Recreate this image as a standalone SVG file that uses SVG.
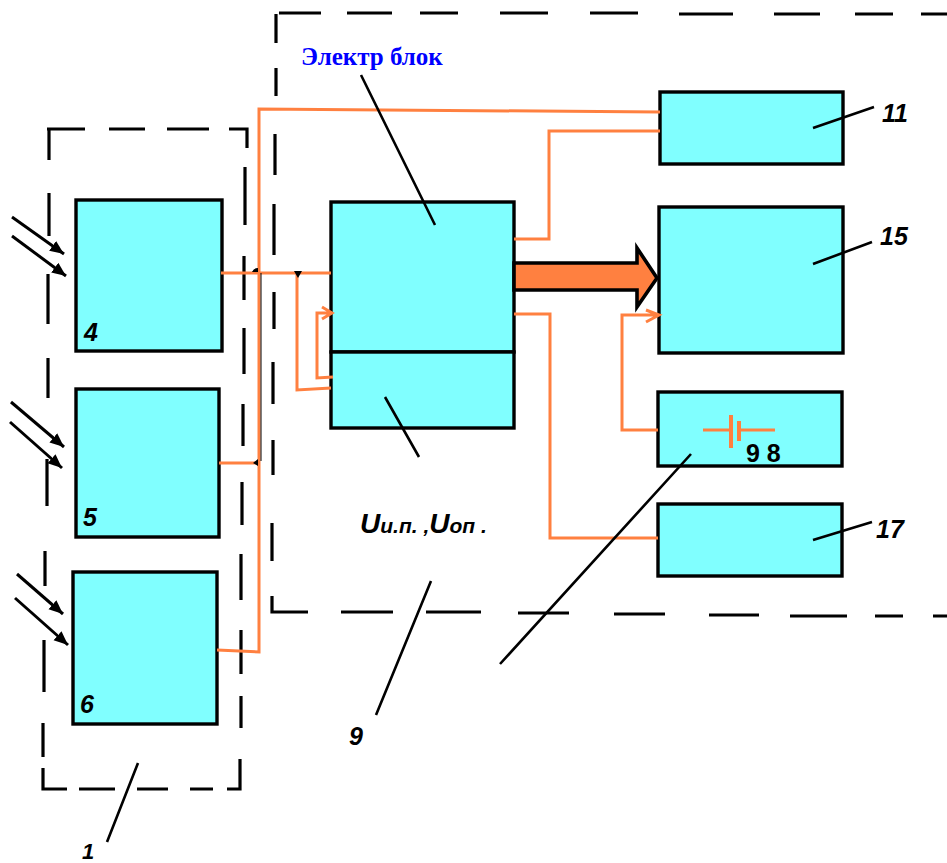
<svg xmlns="http://www.w3.org/2000/svg" width="947" height="863" viewBox="0 0 947 863">
<defs>
<marker id="ray" markerUnits="userSpaceOnUse" markerWidth="16" markerHeight="14" refX="14" refY="7" orient="auto"><path d="M0 1L14 7L0 13Z" fill="#000"/></marker>
</defs>
<style>
.b{fill:#80ffff;stroke:#000;stroke-width:3.4}
.d{fill:none;stroke:#000;stroke-width:3.2}
.l{fill:none;stroke:#000;stroke-width:2.6}
.r{fill:none;stroke:#000;stroke-width:3}
.o{fill:none;stroke:#ff8040;stroke-width:3}
.t{font-family:"Liberation Sans",Arial,sans-serif;font-style:italic;font-weight:bold;font-size:25px;fill:#000}
.k{fill:#000;stroke:none}
</style>
<rect width="947" height="863" fill="#fff"/>
<g id="frame-1">
<path class="d" d="M47 129H85M109 129H145M167 129H209M229 129H247V148M245 167V225M244 256V300M244 328V374M243 404V446M242 482V525M241 554V600M241 630V674M241 696V728M240 759V789H227M213 789H190M168 789H137M115 789H79M67 789H43V768M43 757V723M44 692V640M45 586V551M47 506V459M48 398V358M48 324V274M49 236V193M49 160V129"/>
</g>
<g id="frame-9">
<path class="d" d="M279 13H321M347 13H392M420 13H458M500 13H548M590 13H638M679 14H733M774 14H820M855 14H893M921 14H947M276 14V43M276 68V96M275 134V175M274 204V255M274 292V329M273 362V404M273 440V475M272 523V561M272 596V612H308M341 612H393M426 612H481M518 613H569M614 614H665M709 615H759M790 616H847M875 616H903M933 616H947"/>
</g>
<g id="node-4"><rect class="b" x="76" y="200" width="146" height="151"/><text class="t" x="84" y="341">4</text></g>
<g id="node-5"><rect class="b" x="76" y="389" width="143" height="148"/><text class="t" x="83" y="526">5</text></g>
<g id="node-6"><rect class="b" x="73" y="572" width="144" height="152"/><text class="t" x="80" y="713">6</text></g>
<g id="node-main"><rect class="b" x="331" y="202" width="183" height="150"/></g>
<g id="node-sub"><rect class="b" x="331" y="352" width="183" height="76"/></g>
<g id="node-11"><rect class="b" x="660" y="92" width="183" height="72"/></g>
<g id="node-15"><rect class="b" x="659" y="207" width="184" height="146"/></g>
<g id="node-98"><rect class="b" x="658" y="392" width="184" height="74"/><text x="746" y="462" font-family="Liberation Sans,Arial,sans-serif" font-weight="bold" font-size="25">9 8</text></g>
<g id="node-17"><rect class="b" x="658" y="504" width="184" height="72"/></g>
<g id="connectors">
<path class="o" d="M660 131H549V239H514"/>
<path class="o" d="M660 112L259 109V652L217 650"/>
<path class="o" d="M221 273H331"/>
<path class="o" d="M219 463H259"/>
<path class="o" d="M297 273V390L331 388"/>
<path class="o" d="M333 377L317 378V313H332M322 307L332 313L322 319"/>
<path class="o" d="M514 314H550V538H658"/>
<path class="o" d="M658 430H622V315H658M646 310L659 315L646 322"/>
<path class="o" d="M703 430H731M739 430H775"/>
<path fill="none" stroke="#ff8040" stroke-width="4" d="M731 415V448M739 421V441"/>
<path d="M514 263H637V248L657 278L637 307V290H514Z" fill="#ff8040" stroke="#000" stroke-width="3.6"/>
<path class="k" d="M252 272Q254 268 258 268V272ZM294 271H302L298 278ZM253 463L258 459V466Z"/>
<path d="M261 273V461" fill="none" stroke="#000" stroke-width="1"/>
<g id="rays">
<path class="r" marker-end="url(#ray)" d="M12 217L64 254"/>
<path class="r" marker-end="url(#ray)" d="M12 236L66 276"/>
<path class="r" marker-end="url(#ray)" d="M11 402L64 447"/>
<path class="r" marker-end="url(#ray)" d="M10 422L62 468"/>
<path class="r" marker-end="url(#ray)" d="M17 574L63 614"/>
<path class="r" marker-end="url(#ray)" d="M15 598L68 645"/>
</g>
<g id="leaders">
<path class="l" d="M361 75L435 225M385 397L419 457M431 581L376 715M691 454L500 664M813 128L874 107M813 264L872 242M813 540L872 522M138 763L107 842"/>
</g>
</g>
<g id="labels">
<text x="301" y="65" font-family="Liberation Serif,Times New Roman,serif" font-weight="bold" font-size="25" fill="#0000ff">Электр блок</text>
<text class="t" x="360" y="533" style="font-size:21px"><tspan font-size="28">U</tspan>и.п. ,<tspan font-size="28">U</tspan>оп .</text>
<text class="t" x="882" y="122">11</text>
<text class="t" x="880" y="245">15</text>
<text class="t" x="876" y="538">17</text>
<text class="t" x="349" y="745">9</text>
<text class="t" x="82" y="859" style="font-size:22px">1</text>
</g>
</svg>
